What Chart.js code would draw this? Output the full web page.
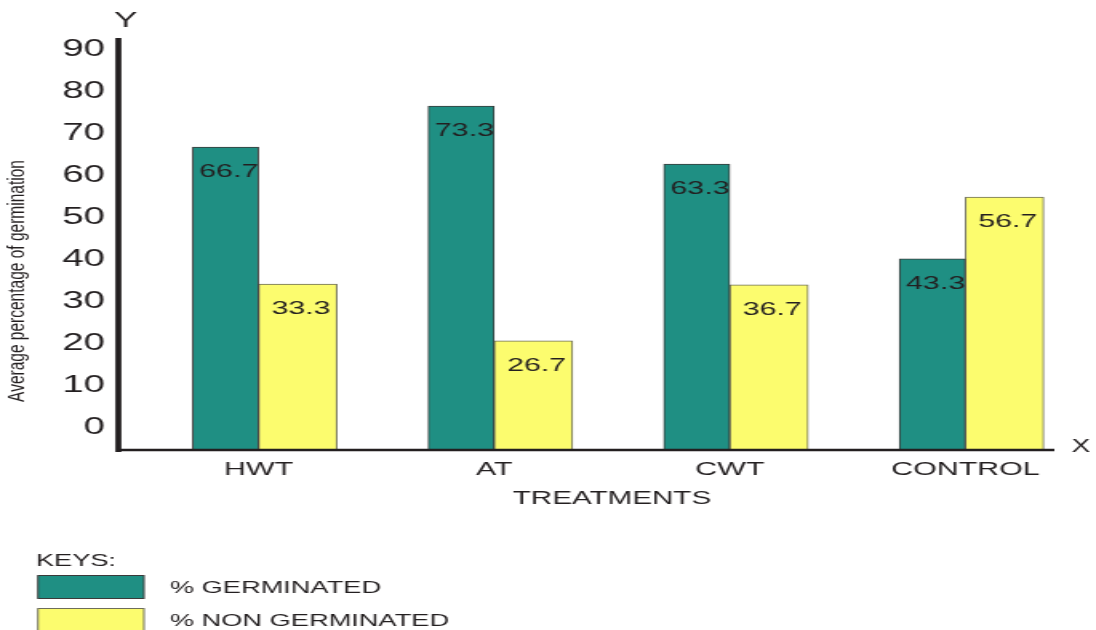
<!DOCTYPE html>
<html>
<head>
<meta charset="utf-8">
<title>Germination by treatment</title>
<script src="https://cdn.jsdelivr.net/npm/chart.js@4.4.1/dist/chart.umd.min.js"></script>
<style>
    html, body { margin: 0; padding: 0; background: #fff; overflow: hidden; }
    /* the source figure is stretched sideways: draw narrow, then widen */
    #stage { width: 685px; height: 630px; transform: scaleX(1.6); transform-origin: 0 0; }
</style>
</head>
<body>
<div id="stage"><canvas id="chart"></canvas></div>
<script>
'use strict';

// ─── Data ───
const treatments = ['HWT', 'AT', 'CWT', 'CONTROL'];
// bar heights as drawn, read against the y scale
const germinated = [66.6, 76.4, 62.6, 40.0];
const nonGerminated = [34.0, 20.5, 33.8, 54.7];
// figures printed on the bars (they don't always agree with the drawn heights)
const germinatedLabels = ['66.7', '73.3', '63.3', '43.3'];
const nonGerminatedLabels = ['33.3', '26.7', '36.7', '56.7'];
const yTicks = [0, 10, 20, 30, 40, 50, 60, 70, 80, 90];
const seriesNames = ['% GERMINATED', '% NON GERMINATED'];

// ─── Look ───
const INK = '#231f20';
const GREEN = '#1f8f83';
const YELLOW = '#fcfc6e';
const FONT = '"Liberation Sans", Arial, sans-serif';
const Y_MIN = -5.5;   // bars start on the x axis line, a bit below the 0 tick

// ─── Plugins ───
const barLabels = {
    id: 'barLabels',
    afterDatasetsDraw(chart) {
        const ctx = chart.ctx;
        ctx.save();
        ctx.font = `19px ${FONT}`;
        ctx.fillStyle = INK;
        ctx.textAlign = 'center';
        ctx.textBaseline = 'middle';
        chart.data.datasets.forEach((ds, i) => {
            chart.getDatasetMeta(i).data.forEach((bar, j) => {
                ctx.fillText(ds.printed[j], bar.x + 2, bar.y + 25);
            });
        });
        ctx.restore();
    },
};

const axisLines = {
    id: 'axisLines',
    afterDatasetsDraw(chart) {
        const { ctx, chartArea: area } = chart;
        const x0 = area.left - 14;   // y axis line sits left of the first gap
        ctx.save();
        ctx.strokeStyle = INK;

        ctx.lineWidth = 2.5;
        ctx.beginPath();
        ctx.moveTo(x0, area.bottom);
        ctx.lineTo(area.right - 18, area.bottom);
        ctx.stroke();

        ctx.lineWidth = 3.75;
        ctx.beginPath();
        ctx.moveTo(x0, area.top);
        ctx.lineTo(x0, area.bottom + 2);
        ctx.stroke();

        ctx.fillStyle = INK;
        ctx.textAlign = 'center';
        ctx.textBaseline = 'middle';
        ctx.font = `22px ${FONT}`;
        ctx.fillText('Y', x0 + 4.5, area.top - 17);
        ctx.font = `17.5px ${FONT}`;
        ctx.fillText('X', area.right - 1.5, area.bottom - 3);
        ctx.restore();
    },
};

const sideText = {
    id: 'sideText',
    afterDraw(chart) {
        const ctx = chart.ctx;
        ctx.save();
        ctx.fillStyle = INK;

        // rotated y axis title
        ctx.save();
        ctx.translate(10.6, 281);
        ctx.rotate(-Math.PI / 2);
        ctx.font = `15.5px ${FONT}`;
        ctx.textAlign = 'center';
        ctx.textBaseline = 'middle';
        ctx.fillText('Average percentage of germination', 0, 0);
        ctx.restore();

        // keys block under the chart
        ctx.font = `17px ${FONT}`;
        ctx.textAlign = 'left';
        ctx.textBaseline = 'middle';
        ctx.fillText('KEYS:', 22.5, 561);
        chart.data.datasets.forEach((ds, i) => {
            const cy = 587 + i * 33;
            ctx.fillStyle = ds.backgroundColor;
            ctx.fillRect(23.75, cy - 11.5, 66.25, 23);
            ctx.strokeStyle = ds.borderColor;
            ctx.lineWidth = 1;
            ctx.strokeRect(23.75, cy - 11.5, 66.25, 23);
            ctx.fillStyle = INK;
            ctx.fillText(ds.label, 106.25, cy + 1);
        });
        ctx.restore();
    },
};

// ─── Chart ───
const ctx = document.getElementById('chart').getContext('2d');
const chart = new Chart(ctx, {
    type: 'bar',
    data: {
        labels: treatments,
        datasets: [
            {
                label: seriesNames[0],
                data: germinated,
                printed: germinatedLabels,
                backgroundColor: GREEN,
                borderColor: '#3a3a3a',
                borderWidth: 1,
                barThickness: 41.25,
                base: Y_MIN,
            },
            {
                label: seriesNames[1],
                data: nonGerminated,
                printed: nonGerminatedLabels,
                backgroundColor: YELLOW,
                borderColor: '#6e6e5a',
                borderWidth: 1,
                barThickness: 49,
                base: Y_MIN,
            },
        ],
    },
    options: {
        responsive: true,
        maintainAspectRatio: false,
        animation: false,
        layout: { padding: { left: 0, right: 8, top: 38, bottom: 100 } },
        plugins: {
            legend: { display: false },
            tooltip: { enabled: false },
        },
        scales: {
            x: {
                afterFit: (axis) => { axis.height = 80; },
                grid: { display: false, drawTicks: false },
                border: { display: false },
                ticks: {
                    padding: 8.6,
                    color: INK,
                    maxRotation: 0,
                    autoSkip: false,
                    font: { family: FONT, size: 19 },
                },
                title: {
                    display: true,
                    text: 'TREATMENTS',
                    color: INK,
                    font: { family: FONT, size: 18.5 },
                    padding: { top: 0, bottom: 20.4 },
                },
            },
            y: {
                min: Y_MIN,
                max: 92.6,
                afterBuildTicks: (axis) => { axis.ticks = yTicks.map(v => ({ value: v })); },
                afterFit: (axis) => { axis.width = 88; },
                grid: { display: false, drawTicks: false },
                border: { display: false },
                ticks: {
                    padding: 22.4,
                    color: INK,
                    font: { family: FONT, size: 24 },
                },
            },
        },
    },
    plugins: [barLabels, axisLines, sideText],
});
</script>
</body>
</html>
